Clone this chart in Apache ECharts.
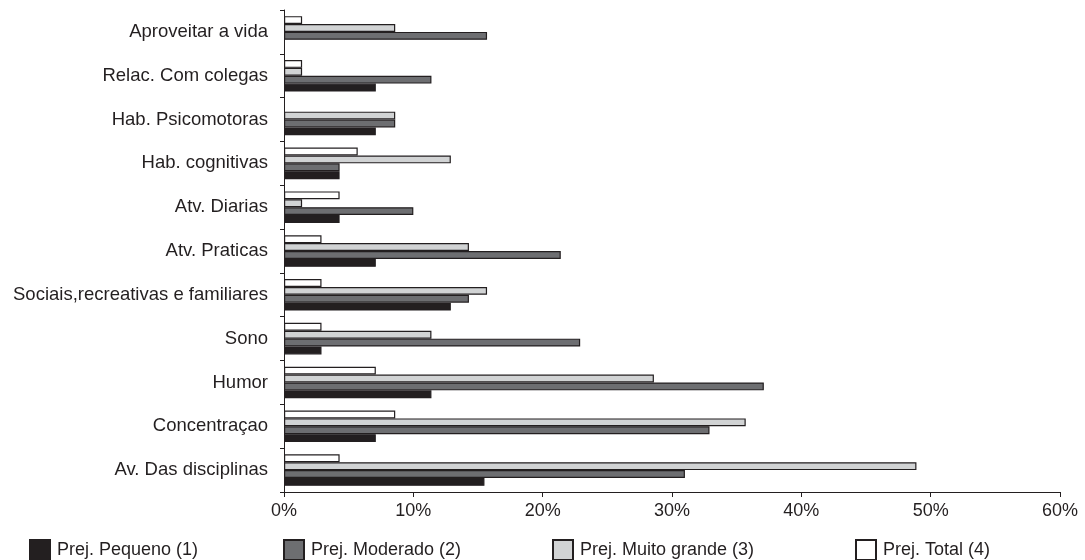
<!DOCTYPE html>
<html><head><meta charset="utf-8">
<script src="https://cdn.jsdelivr.net/npm/echarts@6/dist/echarts.min.js"></script>
<style>html,body{margin:0;padding:0;background:#fff}#c{width:1085px;height:560px}</style>
</head><body><div id="c"></div>
<script>
// categories from bottom to top
const categories = ["Av. Das disciplinas","Concentraçao","Humor","Sono","Sociais,recreativas e familiares","Atv. Praticas","Atv. Diarias","Hab. cognitivas","Hab. Psicomotoras","Relac. Com colegas","Aproveitar a vida"];
const seriesNames = ["Prej. Pequeno (1)","Prej. Moderado (2)","Prej. Muito grande (3)","Prej. Total (4)"];
const pequeno     = [15.5, 7.1, 11.4, 2.9, 12.9, 7.1, 4.3, 4.3, 7.1, 7.1, 0];
const moderado    = [31.0, 32.9, 37.1, 22.9, 14.3, 21.4, 10.0, 4.3, 8.6, 11.4, 15.7];
const muitoGrande = [48.9, 35.7, 28.6, 11.4, 15.7, 14.3, 1.4, 12.9, 8.6, 1.4, 8.6];
const total       = [4.3, 8.6, 7.1, 2.9, 2.9, 2.9, 4.3, 5.7, 0, 1.4, 1.4];
const xTicks = [0, 10, 20, 30, 40, 50, 60];

const colors = ["#231f20", "#6d6e71", "#d1d3d4", "#ffffff"];
const values = [pequeno, moderado, muitoGrande, total];
const legendLefts = [29, 283, 552, 855];
const font = "Liberation Sans, Arial, sans-serif";

// ECharts lays out bars of a horizontal group from top (first series) to bottom,
// so series are added in reverse order (Total on top, Pequeno at the bottom).
const order = [3, 2, 1, 0];

const chart = echarts.init(document.getElementById('c'), null, {renderer: 'canvas'});
chart.setOption({
  animation: false,
  textStyle: {fontFamily: font},
  grid: {left: 284, right: 25, top: 10, bottom: 68, containLabel: false},
  xAxis: {
    type: 'value', min: xTicks[0], max: xTicks[xTicks.length - 1], interval: 10,
    axisLine: {show: true, lineStyle: {color: '#231f20', width: 1}},
    axisTick: {show: true, length: 5, lineStyle: {color: '#231f20'}},
    splitLine: {show: false},
    axisLabel: {formatter: v => v + '%', color: '#231f20', fontSize: 18, margin: 10, fontFamily: font}
  },
  yAxis: {
    type: 'category', data: categories,
    axisLine: {show: true, lineStyle: {color: '#231f20', width: 1}},
    axisTick: {show: true, length: 4, lineStyle: {color: '#231f20'}},
    axisLabel: {color: '#231f20', fontSize: 18.5, margin: 16, fontFamily: font}
  },
  legend: legendLefts.map((l, i) => ({
    data: [seriesNames[i]], left: l, top: 539, itemWidth: 20, itemHeight: 20, icon: 'rect',
    textStyle: {color: '#231f20', fontSize: 18, fontFamily: font, padding: [0, 0, 0, 2]},
    padding: 0, selectedMode: false
  })),
  series: order.map(i => ({
    name: seriesNames[i], type: 'bar', data: values[i].map(v => v === 0 ? '-' : v),
    barGap: '0%', barCategoryGap: '28%',
    itemStyle: {color: colors[i], borderColor: '#231f20', borderWidth: 1.2}
  }))
});
</script></body></html>
